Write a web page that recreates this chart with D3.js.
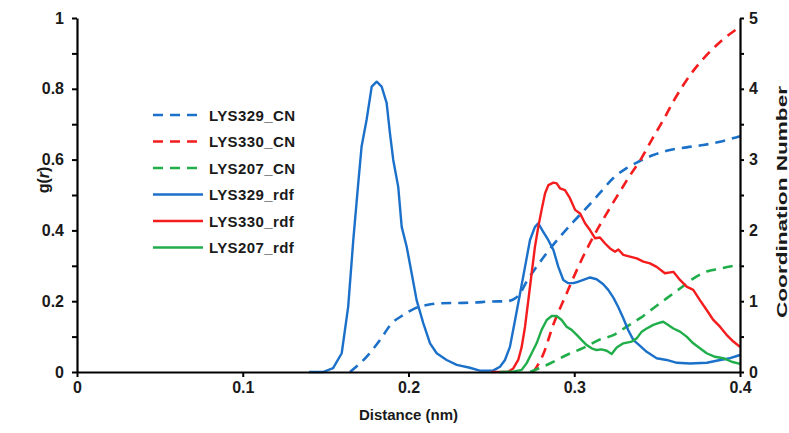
<!DOCTYPE html>
<html><head><meta charset="utf-8">
<script src="https://cdn.jsdelivr.net/npm/d3@7"></script>
<style>html,body{margin:0;padding:0;background:#fff}svg{display:block}</style>
</head><body>
<svg id="c" width="789" height="433"></svg>
<script>
// ---- data ----
const xTicks = [0, 0.1, 0.2, 0.3, 0.4];
const yLeftTicks = [0, 0.2, 0.4, 0.6, 0.8, 1];
const yRightTicks = [0, 1, 2, 3, 4, 5];
const seriesNames = ["LYS329_CN", "LYS330_CN", "LYS207_CN", "LYS329_rdf", "LYS330_rdf", "LYS207_rdf"];
const seriesColors = ["#1b70c9", "#f41c1c", "#1fae4a", "#1b70c9", "#f41c1c", "#1fae4a"];

const lys329RdfR = [0.140,0.1484,0.1545,0.1597,0.1636,0.1667,0.1697,0.1717,0.1747,0.1778,0.1808,0.1838,0.1868,0.1888,0.1908,0.1938,0.1959,0.1989,0.2019,0.2049,0.2089,0.2130,0.2170,0.2230,0.2291,0.237,0.243,0.251,0.2552,0.2582,0.2612,0.2643,0.2673,0.2703,0.2733,0.2763,0.2783,0.2813,0.2843,0.2874,0.2904,0.2934,0.2964,0.2994,0.3025,0.3055,0.3095,0.3135,0.3175,0.3205,0.3236,0.3266,0.3296,0.3326,0.3357,0.3387,0.3437,0.3497,0.3557,0.3620,0.3698,0.3800,0.3880,0.3940,0.4];
const lys329RdfG = [0,0.000,0.011,0.053,0.184,0.373,0.534,0.637,0.712,0.806,0.820,0.806,0.760,0.675,0.599,0.523,0.410,0.354,0.279,0.203,0.138,0.081,0.053,0.034,0.020,0.012,0.004,0.004,0.015,0.034,0.071,0.147,0.222,0.297,0.373,0.410,0.420,0.396,0.373,0.345,0.297,0.260,0.251,0.251,0.255,0.260,0.267,0.262,0.248,0.232,0.210,0.183,0.152,0.118,0.090,0.078,0.057,0.039,0.034,0.026,0.024,0.026,0.034,0.039,0.048];

const lys330RdfR = [0.250,0.2602,0.2632,0.2662,0.2683,0.2703,0.2723,0.2743,0.2763,0.2783,0.2803,0.2824,0.2844,0.2874,0.2894,0.2914,0.2944,0.2974,0.3005,0.3035,0.3065,0.3095,0.3125,0.3155,0.3186,0.3216,0.3246,0.3266,0.3296,0.3336,0.3377,0.3417,0.3457,0.3497,0.3547,0.3598,0.3638,0.3678,0.3718,0.3758,0.3799,0.3839,0.3879,0.3919,0.3960,0.4];
const lys330RdfG = [0,0.001,0.010,0.034,0.071,0.128,0.203,0.279,0.354,0.410,0.458,0.505,0.528,0.535,0.533,0.519,0.514,0.491,0.458,0.448,0.420,0.401,0.378,0.380,0.363,0.349,0.340,0.346,0.331,0.326,0.321,0.312,0.307,0.297,0.279,0.283,0.260,0.241,0.232,0.203,0.175,0.147,0.128,0.105,0.086,0.071];

const lys207RdfR = [0.255,0.2632,0.2683,0.2713,0.2743,0.2773,0.2803,0.2834,0.2864,0.2894,0.2924,0.2954,0.2984,0.3015,0.3045,0.3075,0.3105,0.3135,0.3165,0.3196,0.3226,0.3256,0.3296,0.3347,0.3377,0.3407,0.3437,0.3477,0.3507,0.3537,0.3567,0.3598,0.3638,0.3678,0.3718,0.3758,0.3799,0.3849,0.3899,0.3950,0.4];
const lys207RdfG = [0,0.001,0.006,0.025,0.053,0.081,0.119,0.147,0.158,0.158,0.147,0.128,0.119,0.105,0.090,0.076,0.067,0.062,0.064,0.060,0.051,0.069,0.081,0.086,0.095,0.114,0.123,0.133,0.138,0.142,0.133,0.123,0.114,0.100,0.081,0.067,0.053,0.043,0.039,0.029,0.023];

const lys329CnR = [0.1647,0.1748,0.1828,0.1899,0.1969,0.2039,0.2110,0.2190,0.2291,0.239,0.2492,0.2592,0.2643,0.2673,0.2713,0.2753,0.2834,0.2914,0.2994,0.3075,0.3155,0.3236,0.3316,0.3387,0.3477,0.3578,0.3678,0.3779,0.3879,0.3970,0.4];
const lys329CnN = [0,0.217,0.452,0.687,0.805,0.899,0.946,0.970,0.975,0.98,0.995,1.0,1.04,1.11,1.28,1.42,1.68,1.91,2.12,2.32,2.53,2.74,2.88,2.97,3.065,3.136,3.173,3.206,3.253,3.31,3.33];

const lys330CnR = [0.2753,0.2813,0.2874,0.2954,0.3035,0.3115,0.3196,0.3276,0.3340,0.3403,0.3470,0.3540,0.3600,0.3660,0.3720,0.3800,0.3880,0.3960,0.4];
const lys330CnN = [0,0.25,0.67,1.11,1.54,1.91,2.24,2.55,2.79,3.01,3.29,3.57,3.83,4.06,4.26,4.48,4.66,4.81,4.87];

const lys207CnR = [0.2733,0.2853,0.2954,0.3055,0.3155,0.3236,0.3316,0.3397,0.3477,0.3557,0.3638,0.3718,0.3799,0.3879,0.3940,0.4];
const lys207CnN = [0,0.12,0.24,0.34,0.46,0.52,0.64,0.76,0.90,1.04,1.18,1.32,1.42,1.46,1.49,1.51];

// ---- chart ----
const W = 789, H = 433;
const m = {left: 77, right: 49, top: 18, bottom: 61};
const svg = d3.select("#c");
const x = d3.scaleLinear().domain([0, 0.4]).range([m.left, W - m.right]);
const yL = d3.scaleLinear().domain([0, 1]).range([H - m.bottom, m.top]);
const yR = d3.scaleLinear().domain([0, 5]).range([H - m.bottom, m.top]);
const FONT = "'Liberation Sans', Arial, sans-serif";
const TXT = "#1a1a1a";

const zipXY = (a, b) => a.map((v, i) => [v, b[i]]);
const cnSeries = [
  {r: lys329CnR, v: lys329CnN, c: seriesColors[0]},
  {r: lys330CnR, v: lys330CnN, c: seriesColors[1]},
  {r: lys207CnR, v: lys207CnN, c: seriesColors[2]}
];
const rdfSeries = [
  {r: lys329RdfR, v: lys329RdfG, c: seriesColors[3]},
  {r: lys330RdfR, v: lys330RdfG, c: seriesColors[4]},
  {r: lys207RdfR, v: lys207RdfG, c: seriesColors[5]}
];
const lineCN = d3.line().x(d => x(d[0])).y(d => yR(d[1])).curve(d3.curveMonotoneX);
const lineRdf = d3.line().x(d => x(d[0])).y(d => yL(d[1])).curve(d3.curveLinear);

cnSeries.forEach(s => {
  svg.append("path").attr("d", lineCN(zipXY(s.r, s.v))).attr("fill", "none")
    .attr("stroke", s.c).attr("stroke-width", 2.6).attr("stroke-dasharray", "10,7");
});
rdfSeries.forEach(s => {
  svg.append("path").attr("d", lineRdf(zipXY(s.r, s.v))).attr("fill", "none")
    .attr("stroke", s.c).attr("stroke-width", 2.4).attr("stroke-linejoin", "round");
});

// axes
function styleAxis(g) {
  g.select(".domain").attr("stroke", "#000").attr("stroke-width", 2.2);
  g.selectAll(".tick line").attr("stroke", "#000").attr("stroke-width", 2);
  g.selectAll(".tick text").attr("font-family", FONT).attr("font-weight", "bold")
    .attr("font-size", 16).attr("fill", TXT);
}
const gx = svg.append("g").attr("transform", `translate(0,${H - m.bottom})`)
  .call(d3.axisBottom(x).tickValues(xTicks).tickFormat(d => d === 0 ? "0" : d3.format(".1f")(d))
    .tickSize(5).tickSizeOuter(0).tickPadding(5));
styleAxis(gx);

const gl = svg.append("g").attr("transform", `translate(${m.left},0)`)
  .call(d3.axisLeft(yL).ticks(10).tickFormat(d => yLeftTicks.some(t => Math.abs(t - d) < 1e-9) ? (d === 0 ? "0" : d === 1 ? "1" : d3.format(".1f")(d)) : "")
    .tickSize(5).tickSizeOuter(0).tickPadding(8));
styleAxis(gl);

const gr = svg.append("g").attr("transform", `translate(${W - m.right},0)`)
  .call(d3.axisRight(yR).ticks(10).tickFormat(d => yRightTicks.includes(d) ? d3.format("d")(d) : "")
    .tickSize(4).tickSizeOuter(0).tickPadding(5));
styleAxis(gr);

// axis titles
svg.append("text").attr("x", x(0.2)).attr("y", 420).attr("text-anchor", "middle")
  .attr("font-family", FONT).attr("font-weight", "bold").attr("font-size", 15).attr("fill", TXT)
  .text("Distance (nm)");

const gT = svg.append("text").attr("transform", "translate(49,180) rotate(-90)")
  .attr("text-anchor", "middle").attr("font-family", FONT).attr("font-weight", "bold")
  .attr("font-size", 16).attr("fill", TXT);
gT.append("tspan").text("g(");
gT.append("tspan").attr("font-style", "italic").text("r");
gT.append("tspan").text(")");

svg.append("text").attr("transform", "translate(787,202) rotate(-90)")
  .attr("text-anchor", "middle").attr("font-family", FONT).attr("font-weight", "bold")
  .attr("font-size", 15).attr("fill", TXT)
  .attr("textLength", 232).attr("lengthAdjust", "spacingAndGlyphs")
  .text("Coordination Number");

// legend
const leg = svg.append("g");
seriesNames.forEach((n, i) => {
  const yy = 115 + i * 26.5;
  leg.append("line").attr("x1", 153).attr("x2", 203).attr("y1", yy).attr("y2", yy)
    .attr("stroke", seriesColors[i]).attr("stroke-width", 2.6)
    .attr("stroke-dasharray", i < 3 ? "10,7" : null);
  leg.append("text").attr("x", 209).attr("y", yy + 5.5)
    .attr("font-family", FONT).attr("font-weight", "bold").attr("font-size", 15)
    .attr("letter-spacing", 0.4).attr("fill", TXT).text(n);
});
</script>
</body></html>
